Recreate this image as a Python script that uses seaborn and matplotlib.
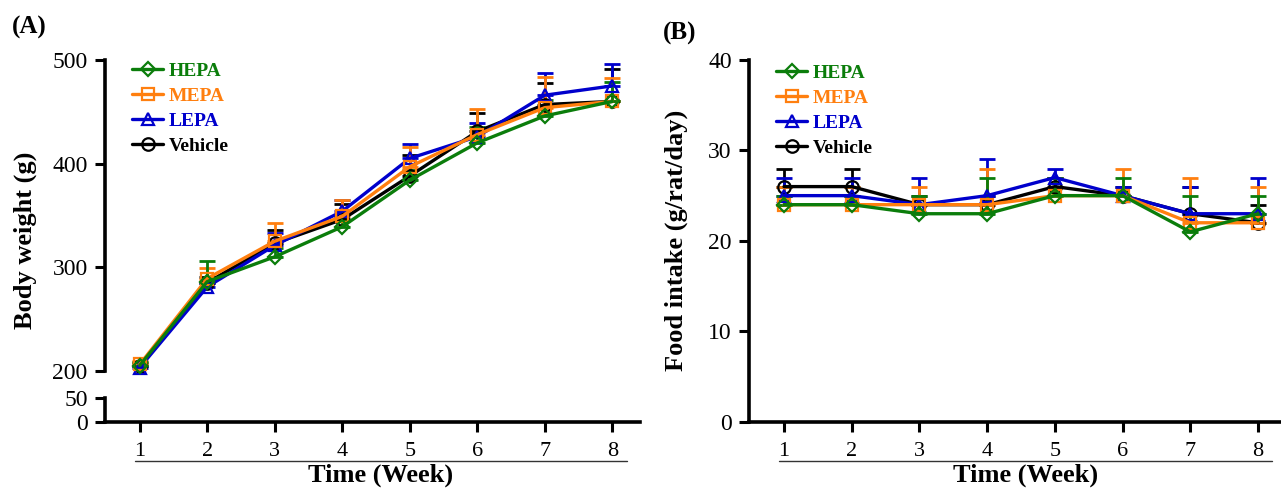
import matplotlib
matplotlib.use('Agg')
import matplotlib.pyplot as plt
from matplotlib.lines import Line2D
import numpy as np
import pandas as pd
import seaborn as sns

weeks = [1, 2, 3, 4, 5, 6, 7, 8]
groups = ['HEPA', 'MEPA', 'LEPA', 'Vehicle']

# body weight (g), mean and upper SD
bw_hepa = [205, 286, 310, 339, 384, 420, 446, 460]
bw_mepa = [206, 289, 325, 349, 397, 428, 454, 460]
bw_lepa = [203, 281, 321, 354, 405, 426, 466, 475]
bw_veh = [205, 285, 323, 346, 388, 431, 457, 460]
bw_hepa_sd = [3, 20, 8, 6, 10, 15, 15, 19]
bw_mepa_sd = [3, 10, 18, 16, 19, 25, 30, 23]
bw_lepa_sd = [2, 4, 12, 11, 14, 13, 21, 21]
bw_veh_sd = [2, 5, 13, 15, 20, 18, 21, 31]

# food intake (g/rat/day)
fi_hepa = [24, 24, 23, 23, 25, 25, 21, 23]
fi_mepa = [24, 24, 24, 24, 25, 25, 22, 22]
fi_lepa = [25, 25, 24, 25, 27, 25, 23, 23]
fi_veh = [26, 26, 24, 24, 26, 25, 23, 22]
fi_hepa_sd = [1, 1, 2, 4, 2, 2, 4, 2]
fi_mepa_sd = [2, 2, 2, 4, 2, 3, 5, 4]
fi_lepa_sd = [2, 2, 3, 4, 1, 1, 3, 4]
fi_veh_sd = [2, 2, 1, 1, 1, 1, 3, 2]

rows = []
for g, bw, bws, fi, fis in [
    ('HEPA', bw_hepa, bw_hepa_sd, fi_hepa, fi_hepa_sd),
    ('MEPA', bw_mepa, bw_mepa_sd, fi_mepa, fi_mepa_sd),
    ('LEPA', bw_lepa, bw_lepa_sd, fi_lepa, fi_lepa_sd),
    ('Vehicle', bw_veh, bw_veh_sd, fi_veh, fi_veh_sd),
]:
    for i, w in enumerate(weeks):
        rows.append({'group': g, 'week': w, 'bw': bw[i], 'bw_sd': bws[i],
                     'fi': fi[i], 'fi_sd': fis[i]})
df = pd.DataFrame(rows)

sns.set_style('ticks')
plt.rcParams['font.family'] = ['Liberation Serif', 'DejaVu Serif']
plt.rcParams['axes.linewidth'] = 2.6
for k in ['text.color', 'axes.labelcolor', 'axes.edgecolor', 'xtick.color', 'ytick.color']:
    plt.rcParams[k] = 'black'

colors = {'HEPA': '#0b7d0b', 'MEPA': '#ff7f0f', 'LEPA': '#0000cc', 'Vehicle': '#000000'}
markers = {'HEPA': 'D', 'MEPA': 's', 'LEPA': '^', 'Vehicle': 'o'}
msizes = {'HEPA': 7.5, 'MEPA': 8.5, 'LEPA': 9, 'Vehicle': 9}

W, H = 1281, 488
fig = plt.figure(figsize=(W / 100, H / 100), dpi=100)


def fx(px):
    return px / W


def fy(py):
    return 1 - py / H


def draw(ax, col):
    handles = {}
    for g in ['Vehicle', 'LEPA', 'MEPA', 'HEPA']:
        sub = df[df.group == g]
        ax.errorbar(sub.week, sub[col], yerr=[np.zeros(len(sub)), sub[col + '_sd']],
                    fmt='none', ecolor=colors[g], elinewidth=2, capsize=5.5,
                    capthick=2, clip_on=False, zorder=2)
        sns.lineplot(data=sub, x='week', y=col, ax=ax, color=colors[g],
                     marker=markers[g], ms=msizes[g], mfc='none', mec=colors[g],
                     mew=1.6, lw=2.4, errorbar=None, clip_on=False, zorder=3)
        handles[g] = ax.lines[-1]
    return handles


def style(ax):
    ax.tick_params(axis='both', direction='out', length=7.5, width=2.2,
                   color='black', labelcolor='black')
    ax.tick_params(axis='y', labelsize=17, pad=5)
    ax.tick_params(axis='x', labelsize=16, pad=7)
    for s in ['top', 'right']:
        ax.spines[s].set_visible(False)
    ax.set_xlabel('')
    ax.set_ylabel('')


def add_legend(ax, handles, x, y):
    ax.legend(handles=[handles[g] for g in groups], labels=groups,
              loc='upper left', bbox_to_anchor=(x, y), bbox_transform=fig.transFigure,
              frameon=False, borderpad=0, borderaxespad=0, handlelength=1.6,
              handletextpad=0.3, labelspacing=0.38,
              prop={'weight': 'bold', 'size': 14}, labelcolor='linecolor')


# ---- panel A: broken y axis ----
axA = fig.add_axes([fx(105), fy(370.7), fx(640) - fx(105), fy(60) - fy(370.7)])
axA2 = fig.add_axes([fx(105), fy(421.7), fx(640) - fx(105), fy(398.3) - fy(421.7)])

hA = draw(axA, 'bw')
style(axA)
axA.spines['bottom'].set_visible(False)
axA.tick_params(axis='x', bottom=False, labelbottom=False)
axA.set_ylim(200, 500)
axA.set_yticks([200, 300, 400, 500])
axA.set_xlim(0.486, 8.41)

style(axA2)
axA2.set_ylim(0, 50)
axA2.set_yticks([0, 50])
axA2.set_xlim(0.486, 8.41)
axA2.set_xticks(weeks)
add_legend(axA, hA, fx(132), fy(62))

# ---- panel B ----
axB = fig.add_axes([fx(749), fy(421.7), 1 - fx(749), fy(60) - fy(421.7)])
hB = draw(axB, 'fi')
style(axB)
axB.set_ylim(0, 40)
axB.set_yticks([0, 10, 20, 30, 40])
axB.set_xlim(0.483, 8.34)
axB.set_xticks(weeks)
add_legend(axB, hB, fx(776), fy(64))

# labels
fig.text(fx(25), fy(240), 'Body weight (g)', rotation=90, ha='center', va='center',
         fontsize=19, fontweight='bold')
fig.text(fx(676), fy(240), 'Food intake (g/rat/day)', rotation=90, ha='center',
         va='center', fontsize=19, fontweight='bold')
for x0, x1 in [(134.5, 626.5), (779, 1272)]:
    fig.add_artist(Line2D([fx(x0), fx(x1)], [fy(461), fy(461)], color='#333333',
                          lw=1.0, transform=fig.transFigure))
    fig.text(fx((x0 + x1) / 2), fy(475), 'Time (Week)', ha='center', va='center',
             fontsize=19, fontweight='bold')
fig.text(fx(12), fy(27), '(A)', ha='left', va='center', fontsize=18, fontweight='bold')
fig.text(fx(663), fy(33), '(B)', ha='left', va='center', fontsize=18, fontweight='bold')

fig.savefig('out.png', dpi=100)
